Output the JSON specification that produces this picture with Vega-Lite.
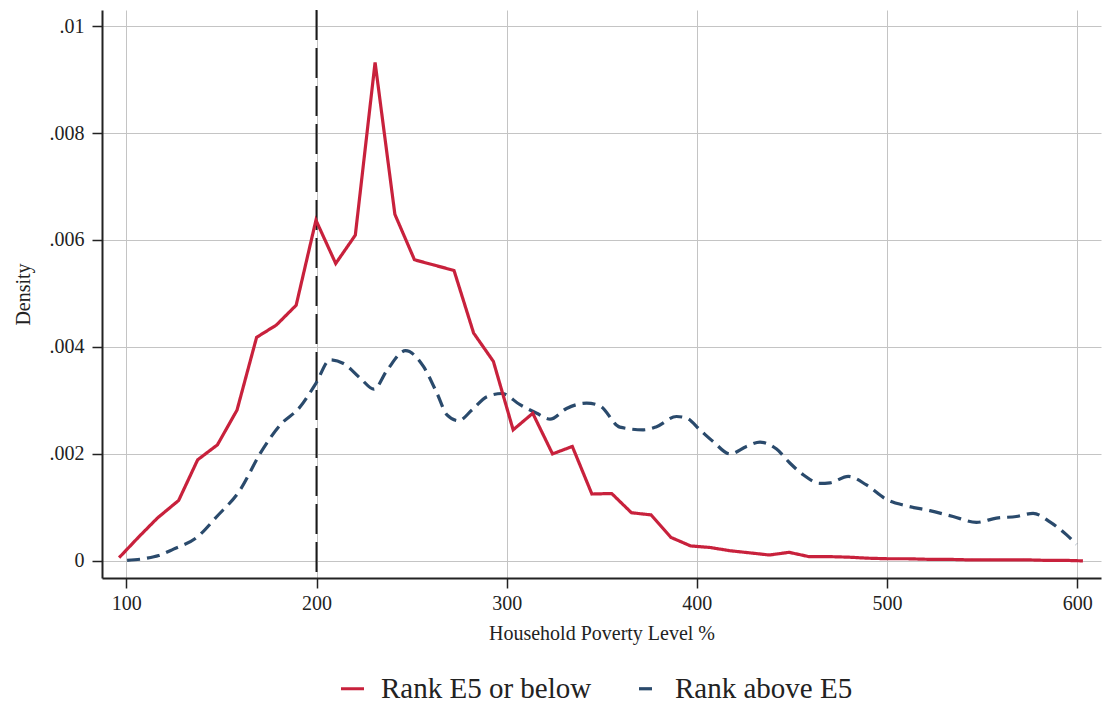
{
  "$schema": "https://vega.github.io/schema/vega-lite/v6.json",
  "width": 999,
  "height": 568,
  "autosize": {"type": "none"},
  "padding": {"left": 102, "top": 10, "right": 2, "bottom": 127},
  "background": "white",
  "config": {
    "view": {"stroke": null},
    "font": "Liberation Serif",
    "axis": {
      "labelFont": "Liberation Serif",
      "titleFont": "Liberation Serif",
      "labelFontSize": 20,
      "titleFontSize": 20,
      "titleFontWeight": "normal",
      "labelColor": "#222222",
      "titleColor": "#222222",
      "domainColor": "#222222",
      "domainWidth": 2,
      "tickColor": "#222222",
      "tickWidth": 1.5,
      "tickSize": 10,
      "gridColor": "#c4c4c4",
      "gridWidth": 1
    },
    "legend": {
      "labelFont": "Liberation Serif",
      "labelFontSize": 29,
      "labelColor": "#222222",
      "labelLimit": 0
    }
  },
  "datasets": {
    "curves": [
      {"series": "Rank E5 or below", "pov": 96.2, "density": 0.00006},
      {"series": "Rank E5 or below", "pov": 106.3, "density": 0.00044},
      {"series": "Rank E5 or below", "pov": 116.3, "density": 0.0008},
      {"series": "Rank E5 or below", "pov": 127.5, "density": 0.00113},
      {"series": "Rank E5 or below", "pov": 137.5, "density": 0.00189},
      {"series": "Rank E5 or below", "pov": 147.9, "density": 0.00217},
      {"series": "Rank E5 or below", "pov": 158.2, "density": 0.00282},
      {"series": "Rank E5 or below", "pov": 168.5, "density": 0.00418},
      {"series": "Rank E5 or below", "pov": 178.9, "density": 0.00441},
      {"series": "Rank E5 or below", "pov": 189.3, "density": 0.00478},
      {"series": "Rank E5 or below", "pov": 199.7, "density": 0.00637},
      {"series": "Rank E5 or below", "pov": 210.1, "density": 0.00556},
      {"series": "Rank E5 or below", "pov": 220.4, "density": 0.00609},
      {"series": "Rank E5 or below", "pov": 230.8, "density": 0.00932},
      {"series": "Rank E5 or below", "pov": 241.2, "density": 0.00648},
      {"series": "Rank E5 or below", "pov": 251.5, "density": 0.00563},
      {"series": "Rank E5 or below", "pov": 261.9, "density": 0.00553},
      {"series": "Rank E5 or below", "pov": 272.3, "density": 0.00543},
      {"series": "Rank E5 or below", "pov": 282.6, "density": 0.00426},
      {"series": "Rank E5 or below", "pov": 293.0, "density": 0.00373},
      {"series": "Rank E5 or below", "pov": 303.4, "density": 0.00245},
      {"series": "Rank E5 or below", "pov": 313.7, "density": 0.00276},
      {"series": "Rank E5 or below", "pov": 324.1, "density": 0.002},
      {"series": "Rank E5 or below", "pov": 334.5, "density": 0.00214},
      {"series": "Rank E5 or below", "pov": 344.8, "density": 0.00125},
      {"series": "Rank E5 or below", "pov": 355.2, "density": 0.00126},
      {"series": "Rank E5 or below", "pov": 365.6, "density": 0.0009},
      {"series": "Rank E5 or below", "pov": 375.9, "density": 0.00086},
      {"series": "Rank E5 or below", "pov": 386.3, "density": 0.00044},
      {"series": "Rank E5 or below", "pov": 396.7, "density": 0.00028},
      {"series": "Rank E5 or below", "pov": 407.0, "density": 0.00025},
      {"series": "Rank E5 or below", "pov": 417.4, "density": 0.00019},
      {"series": "Rank E5 or below", "pov": 427.8, "density": 0.00015},
      {"series": "Rank E5 or below", "pov": 438.1, "density": 0.00011},
      {"series": "Rank E5 or below", "pov": 448.5, "density": 0.00016},
      {"series": "Rank E5 or below", "pov": 458.9, "density": 0.00008},
      {"series": "Rank E5 or below", "pov": 469.2, "density": 0.00008},
      {"series": "Rank E5 or below", "pov": 479.6, "density": 0.00007},
      {"series": "Rank E5 or below", "pov": 490.0, "density": 0.00005},
      {"series": "Rank E5 or below", "pov": 500.3, "density": 0.00004},
      {"series": "Rank E5 or below", "pov": 510.7, "density": 0.00004},
      {"series": "Rank E5 or below", "pov": 521.1, "density": 0.00003},
      {"series": "Rank E5 or below", "pov": 531.4, "density": 0.00003},
      {"series": "Rank E5 or below", "pov": 541.8, "density": 0.00002},
      {"series": "Rank E5 or below", "pov": 552.2, "density": 0.00002},
      {"series": "Rank E5 or below", "pov": 562.5, "density": 0.00002},
      {"series": "Rank E5 or below", "pov": 572.9, "density": 0.00002},
      {"series": "Rank E5 or below", "pov": 583.3, "density": 0.00001},
      {"series": "Rank E5 or below", "pov": 593.6, "density": 0.00001},
      {"series": "Rank E5 or below", "pov": 603.0, "density": 0.0},
      {"series": "Rank above E5", "pov": 100.4, "density": 0.00001},
      {"series": "Rank above E5", "pov": 110.8, "density": 0.00005},
      {"series": "Rank above E5", "pov": 117.0, "density": 0.0001},
      {"series": "Rank above E5", "pov": 124.8, "density": 0.00022},
      {"series": "Rank above E5", "pov": 137.1, "density": 0.00044},
      {"series": "Rank above E5", "pov": 147.6, "density": 0.00083},
      {"series": "Rank above E5", "pov": 159.9, "density": 0.00133},
      {"series": "Rank above E5", "pov": 170.4, "density": 0.00201},
      {"series": "Rank above E5", "pov": 180.9, "density": 0.00254},
      {"series": "Rank above E5", "pov": 191.4, "density": 0.00288},
      {"series": "Rank above E5", "pov": 199.7, "density": 0.00332},
      {"series": "Rank above E5", "pov": 207.2, "density": 0.00376},
      {"series": "Rank above E5", "pov": 214.2, "density": 0.00369},
      {"series": "Rank above E5", "pov": 223.2, "density": 0.00341},
      {"series": "Rank above E5", "pov": 230.2, "density": 0.00321},
      {"series": "Rank above E5", "pov": 237.2, "density": 0.00357},
      {"series": "Rank above E5", "pov": 246.8, "density": 0.00393},
      {"series": "Rank above E5", "pov": 256.3, "density": 0.00363},
      {"series": "Rank above E5", "pov": 263.4, "density": 0.00313},
      {"series": "Rank above E5", "pov": 268.6, "density": 0.00273},
      {"series": "Rank above E5", "pov": 274.7, "density": 0.00262},
      {"series": "Rank above E5", "pov": 281.7, "density": 0.00282},
      {"series": "Rank above E5", "pov": 289.6, "density": 0.00307},
      {"series": "Rank above E5", "pov": 297.4, "density": 0.00313},
      {"series": "Rank above E5", "pov": 307.0, "density": 0.00292},
      {"series": "Rank above E5", "pov": 315.8, "density": 0.00276},
      {"series": "Rank above E5", "pov": 322.8, "density": 0.00265},
      {"series": "Rank above E5", "pov": 331.5, "density": 0.00285},
      {"series": "Rank above E5", "pov": 342.0, "density": 0.00295},
      {"series": "Rank above E5", "pov": 349.0, "density": 0.0029},
      {"series": "Rank above E5", "pov": 359.5, "density": 0.0025},
      {"series": "Rank above E5", "pov": 371.8, "density": 0.00245},
      {"series": "Rank above E5", "pov": 378.8, "density": 0.00251},
      {"series": "Rank above E5", "pov": 389.3, "density": 0.0027},
      {"series": "Rank above E5", "pov": 394.6, "density": 0.00267},
      {"series": "Rank above E5", "pov": 401.6, "density": 0.00245},
      {"series": "Rank above E5", "pov": 408.6, "density": 0.00223},
      {"series": "Rank above E5", "pov": 417.4, "density": 0.002},
      {"series": "Rank above E5", "pov": 426.1, "density": 0.00214},
      {"series": "Rank above E5", "pov": 433.2, "density": 0.00222},
      {"series": "Rank above E5", "pov": 441.9, "density": 0.00209},
      {"series": "Rank above E5", "pov": 448.9, "density": 0.00183},
      {"series": "Rank above E5", "pov": 455.9, "density": 0.00161},
      {"series": "Rank above E5", "pov": 464.7, "density": 0.00145},
      {"series": "Rank above E5", "pov": 470.0, "density": 0.00146},
      {"series": "Rank above E5", "pov": 479.6, "density": 0.00158},
      {"series": "Rank above E5", "pov": 489.2, "density": 0.00142},
      {"series": "Rank above E5", "pov": 499.7, "density": 0.00115},
      {"series": "Rank above E5", "pov": 510.2, "density": 0.00103},
      {"series": "Rank above E5", "pov": 522.5, "density": 0.00094},
      {"series": "Rank above E5", "pov": 534.7, "density": 0.00083},
      {"series": "Rank above E5", "pov": 547.0, "density": 0.00072},
      {"series": "Rank above E5", "pov": 557.5, "density": 0.0008},
      {"series": "Rank above E5", "pov": 568.0, "density": 0.00083},
      {"series": "Rank above E5", "pov": 576.8, "density": 0.00089},
      {"series": "Rank above E5", "pov": 585.6, "density": 0.00073},
      {"series": "Rank above E5", "pov": 594.3, "density": 0.00049},
      {"series": "Rank above E5", "pov": 599.5, "density": 0.00031}
    ],
    "cutoff": [{"threshold": 200}]
  },
  "encoding": {
    "x": {
      "field": "pov",
      "type": "quantitative",
      "scale": {"domain": [87.2, 612.5], "nice": false, "zero": false},
      "axis": {
        "title": "Household Poverty Level %",
        "values": [100, 200, 300, 400, 500, 600],
        "grid": true,
        "labelPadding": 5,
        "titlePadding": 10
      }
    },
    "y": {
      "field": "density",
      "type": "quantitative",
      "scale": {"domain": [-0.00032, 0.0103], "nice": false, "zero": false},
      "axis": {
        "title": "Density",
        "values": [0, 0.002, 0.004, 0.006, 0.008, 0.01],
        "labelExpr": "datum.value == 0 ? '0' : replace(format(datum.value, '.3~f'), '0.', '.')",
        "grid": true,
        "labelPadding": 8,
        "titlePadding": 16
      }
    }
  },
  "layer": [
    {
      "data": {"name": "cutoff"},
      "mark": {"type": "rule", "color": "#1a1a1a", "strokeWidth": 2, "strokeDash": [30, 8]},
      "encoding": {
        "x": {"field": "threshold", "type": "quantitative"},
        "y": null
      }
    },
    {
      "data": {"name": "curves"},
      "transform": [{"filter": "datum.series == 'Rank above E5'"}],
      "mark": {"type": "line", "interpolate": "monotone", "strokeWidth": 3.2},
      "encoding": {
        "color": {
          "field": "series",
          "type": "nominal",
          "scale": {"domain": ["Rank E5 or below", "Rank above E5"], "range": ["#c8213c", "#2a4a6c"]},
          "legend": {
            "title": null,
            "orient": "none",
            "direction": "horizontal",
            "legendX": 236,
            "legendY": 664,
            "symbolType": "stroke",
            "symbolSize": 529,
            "symbolStrokeWidth": 3.2,
            "symbolDashOffset": 16,
            "labelOffset": 14,
            "columnPadding": 36
          }
        },
        "strokeDash": {
          "field": "series",
          "type": "nominal",
          "scale": {"domain": ["Rank E5 or below", "Rank above E5"], "range": [[1, 0], [13, 7]]},
          "legend": null
        }
      }
    },
    {
      "data": {"name": "curves"},
      "transform": [{"filter": "datum.series == 'Rank E5 or below'"}],
      "mark": {"type": "line", "interpolate": "linear", "strokeWidth": 3.2},
      "encoding": {
        "color": {"field": "series", "type": "nominal"},
        "strokeDash": {"field": "series", "type": "nominal", "legend": null}
      }
    }
  ]
}
